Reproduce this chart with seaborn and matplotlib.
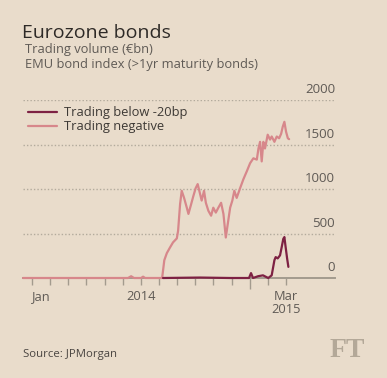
import matplotlib
matplotlib.use("Agg")
import matplotlib.pyplot as plt
import matplotlib.transforms as mtransforms
import pandas as pd
import seaborn as sns

# x positions are in tick units (one tick = one interval on the axis)
neg_x = [-0.50, 5.29, 5.46, 5.62, 6.01, 6.12, 6.23, 7.17, 7.29, 7.43, 7.61, 7.77, 7.98, 8.05,
         8.16, 8.25, 8.38, 8.53, 8.62, 8.77, 8.89, 9.02, 9.13, 9.22, 9.35, 9.48, 9.58, 9.72,
         9.87, 9.99, 10.13, 10.27, 10.42, 10.55, 10.68, 10.79, 10.92, 11.04, 11.15, 11.28,
         11.47, 11.65, 11.84, 12.02, 12.20, 12.39, 12.48, 12.57, 12.66, 12.75, 12.84, 12.99,
         13.12, 13.21, 13.36, 13.49, 13.62, 13.73, 13.82, 13.91, 14.00, 14.10, 14.17]
neg_vol = [0, 0, 20, 0, 0, 15, 0, 0, 200, 280, 345, 400, 445, 530,
           830, 980, 900, 790, 720, 830, 920, 1010, 1055, 980, 870, 980, 845, 755,
           700, 790, 735, 790, 845, 720, 455, 610, 790, 870, 980, 900,
           1010, 1110, 1200, 1290, 1345, 1330, 1455, 1530, 1310, 1530, 1455, 1610,
           1555, 1590, 1530, 1590, 1570, 1620, 1700, 1755, 1645, 1570, 1560]

below_x = [7.22, 9.26, 10.92, 11.96, 12.07, 12.18, 12.46, 12.73, 13.02, 13.21, 13.36, 13.43,
           13.54, 13.67, 13.76, 13.85, 13.91, 13.98, 14.06, 14.13]
below_vol = [0, 5, 0, 0, 55, 0, 20, 30, 0, 30, 200, 235,
             220, 255, 345, 440, 460, 345, 220, 125]

tick_pos = list(range(15))
tick_labels = ["Jan", "", "", "", "", "", "2014", "", "", "", "", "", "", "", "Mar\n2015"]
y_ticks = [0, 500, 1000, 1500, 2000]

bg = "#e9dccb"
pink = "#d7878b"
maroon = "#7d2143"
grey_txt = "#5f5a55"

df = pd.concat([
    pd.DataFrame({"x": neg_x, "vol": neg_vol, "series": "Trading negative"}),
    pd.DataFrame({"x": below_x, "vol": below_vol, "series": "Trading below -20bp"}),
])

sns.set_style("white")
plt.rcParams["font.family"] = ["Open Sans", "DejaVu Sans"]

fig = plt.figure(figsize=(3.87, 3.78), dpi=100, facecolor=bg)
ax = fig.add_axes([23 / 387, 1 - 278 / 378, 312 / 387, 178 / 378])
ax.set_facecolor(bg)

sns.lineplot(data=df, x="x", y="vol", hue="series",
             hue_order=["Trading negative", "Trading below -20bp"],
             palette={"Trading negative": pink, "Trading below -20bp": maroon},
             linewidth=1.6, ax=ax, clip_on=False, zorder=3)

ax.set_xlim(-0.5, 16.7)
ax.set_ylim(0, 2000)
for s in ["top", "right", "left"]:
    ax.spines[s].set_visible(False)
ax.spines["bottom"].set_color("#a39b8e")
ax.spines["bottom"].set_linewidth(1.4)
ax.set_xlabel("")
ax.set_ylabel("")

# dotted gridlines with labels sitting above them on the right
ax.set_yticks([])
trans = mtransforms.blended_transform_factory(ax.transAxes, ax.transData)
for v in y_ticks:
    if v > 0:
        ax.axhline(v, color="#b2aa9c", lw=1.0, ls=(0, (1, 1.5)), zorder=1)
    ax.text(1.0, v + 40, str(v), transform=trans, ha="right", va="bottom",
            fontsize=9.5, color=grey_txt)

ax.set_xticks(tick_pos)
ax.set_xticklabels(tick_labels, fontsize=9.3, color=grey_txt, linespacing=0.95)
ax.tick_params(axis="x", bottom=True, direction="out", length=5, width=1,
               color="#a39b8e", pad=4)
ax.xaxis.get_majorticklabels()[0].set_ha("left")
ax.xaxis.get_majorticklines()[24].set_markersize(8)

handles, labels = ax.get_legend_handles_labels()
order = [labels.index("Trading below -20bp"), labels.index("Trading negative")]
leg = ax.legend([handles[i] for i in order], [labels[i] for i in order],
                loc="upper left", bbox_to_anchor=(0.0, 0.995), frameon=False,
                fontsize=9.3, handlelength=2.2, handletextpad=0.6, labelspacing=0.1,
                borderaxespad=0.0)
for t in leg.get_texts():
    t.set_color("#3d3935")

fig.text(22 / 387, 1 - 38 / 378, "Eurozone bonds", fontsize=14, color="#2e2a27", va="baseline")
fig.text(25 / 387, 1 - 53 / 378, "Trading volume (€bn)", fontsize=9.3, color=grey_txt, va="baseline")
fig.text(25 / 387, 1 - 68 / 378, "EMU bond index (>1yr maturity bonds)", fontsize=9.3,
         color=grey_txt, va="baseline")
fig.text(23 / 387, 1 - 357 / 378, "Source: JPMorgan", fontsize=8.2, color="#4a4541", va="baseline")
fig.text(365 / 387, 1 - 357 / 378, "FT", fontsize=20, color="#b3a898", ha="right", va="baseline",
         family="Liberation Serif", weight="bold")

fig.savefig("out.png", dpi=100, facecolor=bg)
